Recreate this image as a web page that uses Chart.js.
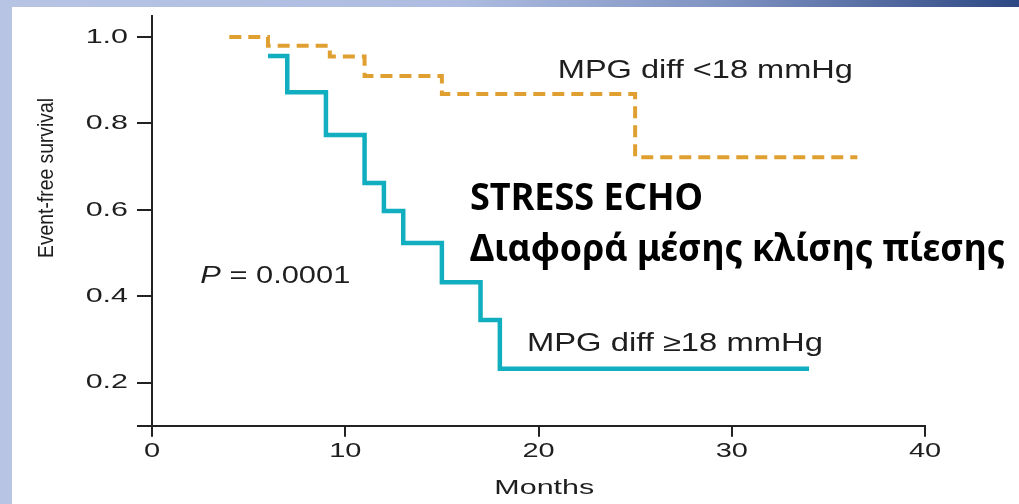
<!DOCTYPE html>
<html>
<head>
<meta charset="utf-8">
<title>Event-free survival – MPG diff</title>
<script src="https://cdn.jsdelivr.net/npm/chart.js@4"></script>
<style>
    html, body { margin: 0; padding: 0; background: #fff; }
    #slide { position: relative; width: 1019px; height: 504px; overflow: hidden; background: #fff; }
    #leftBar { position: absolute; left: 0; top: 0; width: 12px; height: 504px; background: #b7c4e4; }
    #topBar {
        position: absolute; left: 0; top: 0; width: 1019px; height: 7px;
        background: linear-gradient(to right, #b7c4e4 0%, #adbce0 45%, #7d91c0 72%, #2d4884 100%);
    }
    #kmChart { position: absolute; left: 0; top: 0; }
</style>
</head>
<body>
<div id="slide">
    <div id="leftBar"></div>
    <div id="topBar"></div>
    <canvas id="kmChart" width="1019" height="504"></canvas>
</div>
<script>
// Kaplan-Meier curves
const lowGroupMonths = [4, 6, 9.2, 11, 15, 25, 36.5];
const lowGroupSurvival = [1.0, 0.98, 0.955, 0.91, 0.868, 0.722, 0.722];

const highGroupMonths = [6, 7, 9, 11, 12, 13, 15, 17, 18, 34];
const highGroupSurvival = [0.956, 0.872, 0.773, 0.662, 0.597, 0.523, 0.432, 0.345, 0.232, 0.232];

const xTickValues = [0, 10, 20, 30, 40];
const yTickValues = [0.1, 0.2, 0.4, 0.6, 0.8, 1.0]; // 0.1 = axis origin, no label

const TEXT_COLOR = '#1e1e1e';
const CHART_FONT = '"Liberation Sans", Arial, sans-serif';
const HEAD_FONT = '"Noto Sans", "Open Sans", sans-serif';
const STRETCH = 1.38; // the source figure is stretched horizontally

function toPoints(xs, ys) {
    return xs.map((x, i) => ({ x: x, y: ys[i] }));
}

function measureParts(ctx, parts) {
    let total = 0;
    parts.forEach(p => {
        ctx.font = p.font;
        total += ctx.measureText(p.text).width;
    });
    return total;
}

// Draw text runs with a horizontal scale factor
function drawStretched(ctx, parts, x, y, sx, align) {
    const w = measureParts(ctx, parts);
    let cx = align === 'right' ? -w : (align === 'center' ? -w / 2 : 0);
    ctx.save();
    ctx.translate(x, y);
    ctx.scale(sx, 1);
    ctx.textAlign = 'left';
    parts.forEach(p => {
        ctx.font = p.font;
        ctx.fillStyle = p.color || TEXT_COLOR;
        ctx.fillText(p.text, cx, 0);
        cx += ctx.measureText(p.text).width;
    });
    ctx.restore();
}

// Same, but scaled so the run covers a given width
function drawFitted(ctx, parts, x, y, targetWidth, align) {
    const sx = targetWidth / measureParts(ctx, parts);
    drawStretched(ctx, parts, x, y, sx, align);
}

const textPlugin = {
    id: 'kmText',
    afterDraw(chart) {
        const ctx = chart.ctx;
        const xs = chart.scales.x;
        const ys = chart.scales.y;
        const tickFont = '21px ' + CHART_FONT;
        ctx.save();
        ctx.textBaseline = 'middle';

        // tick labels
        yTickValues.forEach(v => {
            if (v < 0.15) return;
            drawStretched(ctx, [{ text: v.toFixed(1), font: tickFont }],
                xs.left - 24, ys.getPixelForValue(v), 1.45, 'right');
        });
        xTickValues.forEach(v => {
            drawStretched(ctx, [{ text: String(v), font: tickFont }],
                xs.getPixelForValue(v), ys.bottom + 25.5, STRETCH, 'center');
        });

        // axis titles
        drawStretched(ctx, [{ text: 'Months', font: tickFont }],
            xs.getPixelForValue(20.3), ys.bottom + 62.5, 1.45, 'center');
        ctx.save();
        ctx.translate(47, 178);
        ctx.rotate(-Math.PI / 2);
        drawFitted(ctx, [{ text: 'Event-free survival', font: '22px ' + CHART_FONT }], 0, 0, 160, 'center');
        ctx.restore();

        ctx.textBaseline = 'alphabetic';
        // curve labels, anchored in data space
        drawFitted(ctx, [{ text: 'MPG diff <18 mmHg', font: '25px ' + CHART_FONT }],
            xs.getPixelForValue(21.0), ys.getPixelForValue(0.905), 295, 'left');
        drawFitted(ctx, [{ text: 'MPG diff \u226518 mmHg', font: '25px ' + CHART_FONT }],
            xs.getPixelForValue(19.4), ys.getPixelForValue(0.272), 296, 'left');
        drawFitted(ctx, [
            { text: 'P', font: 'italic 23px ' + CHART_FONT },
            { text: ' = 0.0001', font: '23px ' + CHART_FONT }
        ], xs.getPixelForValue(2.5), ys.getPixelForValue(0.43), 150, 'left');

        // slide heading
        drawFitted(ctx, [{ text: 'STRESS ECHO', font: 'bold 37px ' + HEAD_FONT, color: '#000' }],
            470, 210, 233, 'left');
        drawFitted(ctx, [{ text: 'Διαφορά μέσης κλίσης πίεσης', font: 'bold 37px ' + HEAD_FONT, color: '#000' }],
            470, 261, 535, 'left');
        ctx.restore();
    }
};

const ctx = document.getElementById('kmChart');

new Chart(ctx.getContext('2d'), {
    type: 'line',
    data: {
        datasets: [
            {
                label: 'MPG diff <18 mmHg',
                data: toPoints(lowGroupMonths, lowGroupSurvival),
                borderColor: '#e0a031',
                borderWidth: 4,
                borderDash: [12, 7],
                borderCapStyle: 'butt',
                stepped: 'before',
                pointRadius: 0,
                fill: false
            },
            {
                label: 'MPG diff \u226518 mmHg',
                data: toPoints(highGroupMonths, highGroupSurvival),
                borderColor: '#11aec0',
                borderWidth: 4.5,
                stepped: 'before',
                pointRadius: 0,
                fill: false
            }
        ]
    },
    options: {
        responsive: false,
        animation: false,
        events: [],
        layout: {
            padding: { top: 15.5, right: 94, left: 0, bottom: 0 }
        },
        plugins: {
            legend: { display: false },
            tooltip: { enabled: false }
        },
        scales: {
            x: {
                type: 'linear',
                min: 0,
                max: 40,
                afterBuildTicks: scale => { scale.ticks = xTickValues.map(v => ({ value: v })); },
                afterFit: scale => { scale.height = 504 - 425.7; },
                ticks: { display: false },
                grid: {
                    drawOnChartArea: false,
                    drawTicks: true,
                    tickLength: 11,
                    color: '#222',
                    lineWidth: 2
                },
                border: { display: true, color: '#222', width: 2 }
            },
            y: {
                type: 'linear',
                min: 0.1,
                max: 1.05,
                afterBuildTicks: scale => { scale.ticks = yTickValues.map(v => ({ value: v })); },
                afterFit: scale => { scale.width = 152; },
                ticks: { display: false },
                grid: {
                    drawOnChartArea: false,
                    drawTicks: true,
                    tickLength: 15,
                    color: '#222',
                    lineWidth: 2
                },
                border: { display: true, color: '#222', width: 2 }
            }
        }
    },
    plugins: [textPlugin]
});
</script>
</body>
</html>
